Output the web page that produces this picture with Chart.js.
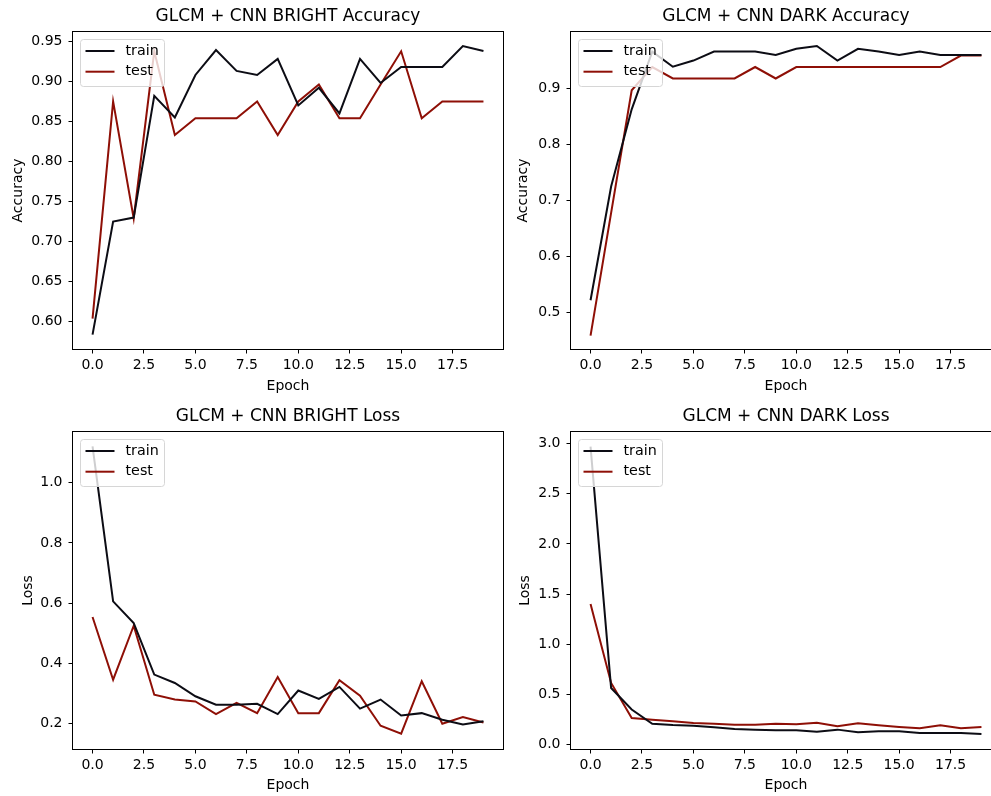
<!DOCTYPE html>
<html><head><meta charset="utf-8">
<script src="https://cdn.jsdelivr.net/npm/chart.js@4.4.1/dist/chart.umd.min.js"></script>
<style>
html,body{margin:0;padding:0;background:#fff;}
#wrap{position:relative;width:991px;height:796px;overflow:hidden;background:#fff;}
canvas{position:absolute;}
</style></head><body>
<div id="wrap">
<canvas id="c1" width="510" height="400" style="left:0;top:0"></canvas>
<canvas id="c2" width="510" height="400" style="left:498px;top:0"></canvas>
<canvas id="c3" width="510" height="396" style="left:0;top:400px"></canvas>
<canvas id="c4" width="510" height="396" style="left:498px;top:400px"></canvas>
</div>
<script>
// ---- data ----
const epochs = [0,1,2,3,4,5,6,7,8,9,10,11,12,13,14,15,16,17,18,19];
const xTicks = [0,2.5,5,7.5,10,12.5,15,17.5];

const brightAccTrain = [0.584,0.725,0.730,0.882,0.855,0.908,0.939,0.913,0.908,0.928,0.870,0.892,0.860,0.928,0.898,0.918,0.918,0.918,0.944,0.938];
const brightAccTest  = [0.604,0.875,0.729,0.9375,0.833,0.854,0.854,0.854,0.875,0.833,0.875,0.896,0.854,0.854,0.896,0.9375,0.854,0.875,0.875,0.875];
const darkAccTrain   = [0.521,0.724,0.862,0.965,0.938,0.949,0.965,0.965,0.965,0.959,0.970,0.975,0.949,0.970,0.965,0.959,0.965,0.959,0.959,0.959];
const darkAccTest    = [0.458,0.677,0.896,0.9375,0.917,0.917,0.917,0.917,0.9375,0.917,0.9375,0.9375,0.9375,0.9375,0.9375,0.9375,0.9375,0.9375,0.958,0.958];
const brightLossTrain= [1.12,0.606,0.534,0.363,0.335,0.291,0.263,0.263,0.266,0.232,0.310,0.282,0.322,0.250,0.280,0.227,0.235,0.213,0.197,0.208];
const brightLossTest = [0.554,0.346,0.525,0.296,0.280,0.274,0.232,0.269,0.235,0.355,0.235,0.235,0.344,0.293,0.193,0.167,0.341,0.200,0.222,0.204];
const darkLossTrain  = [2.97,0.565,0.35,0.209,0.196,0.189,0.173,0.156,0.150,0.143,0.143,0.130,0.150,0.123,0.133,0.133,0.116,0.116,0.116,0.106];
const darkLossTest   = [1.402,0.615,0.266,0.249,0.233,0.216,0.209,0.199,0.199,0.209,0.203,0.219,0.183,0.213,0.193,0.176,0.163,0.193,0.163,0.176];

const yTicksBrightAcc = [0.60,0.65,0.70,0.75,0.80,0.85,0.90,0.95];
const yTicksDarkAcc   = [0.5,0.6,0.7,0.8,0.9];
const yTicksBrightLoss= [0.2,0.4,0.6,0.8,1.0];
const yTicksDarkLoss  = [0.0,0.5,1.0,1.5,2.0,2.5,3.0];

const seriesLabels = ['train','test'];

// ---- style ----
const FONT = 'DejaVu Sans';
const TRAIN_COLOR = '#0c0c14';
const TEST_COLOR = '#8e0f06';

const framePlugin = {
  id: 'frameLegend',
  afterDatasetsDraw(chart) {
    const {ctx, chartArea: a} = chart;
    ctx.save();
    const bx = a.left + 7.5, by = a.top + 7.5, bw = 84, bh = 47, r = 3;
    ctx.beginPath();
    ctx.moveTo(bx + r, by);
    ctx.lineTo(bx + bw - r, by);
    ctx.arcTo(bx + bw, by, bx + bw, by + r, r);
    ctx.lineTo(bx + bw, by + bh - r);
    ctx.arcTo(bx + bw, by + bh, bx + bw - r, by + bh, r);
    ctx.lineTo(bx + r, by + bh);
    ctx.arcTo(bx, by + bh, bx, by + bh - r, r);
    ctx.lineTo(bx, by + r);
    ctx.arcTo(bx, by, bx + r, by, r);
    ctx.closePath();
    ctx.fillStyle = 'rgba(255,255,255,0.8)';
    ctx.fill();
    ctx.strokeStyle = '#d6d6d6';
    ctx.lineWidth = 1;
    ctx.stroke();
    chart.data.datasets.forEach((ds, i) => {
      const y = a.top + 19 + i * 20.7;
      ctx.beginPath();
      ctx.moveTo(a.left + 12.5, y);
      ctx.lineTo(a.left + 41.5, y);
      ctx.strokeStyle = ds.borderColor;
      ctx.lineWidth = 2;
      ctx.stroke();
      ctx.fillStyle = '#000';
      ctx.font = '14.3px "' + FONT + '"';
      ctx.textBaseline = 'middle';
      ctx.textAlign = 'left';
      ctx.fillText(ds.label, a.left + 52.5, y);
    });
    ctx.restore();
  },
  afterDraw(chart) {
    const {ctx, chartArea: a} = chart;
    ctx.save();
    ctx.strokeStyle = '#000';
    ctx.lineWidth = 1;
    ctx.strokeRect(Math.round(a.left) - 0.5, Math.round(a.top) - 0.5, Math.round(a.right - a.left) + 1, Math.round(a.bottom - a.top) + 1);
    ctx.restore();
  }
};

function build(id, cfg) {
  const H = document.getElementById(id).height;
  const mk = (arr) => epochs.map((e, i) => ({x: e, y: arr[i]}));
  return new Chart(document.getElementById(id), {
    type: 'line',
    data: {
      datasets: [
        {label: seriesLabels[0], data: mk(cfg.train), borderColor: TRAIN_COLOR, borderWidth: 2, pointRadius: 0, tension: 0, fill: false},
        {label: seriesLabels[1], data: mk(cfg.test), borderColor: TEST_COLOR, borderWidth: 2, pointRadius: 0, tension: 0, fill: false}
      ]
    },
    options: {
      responsive: false, animation: false, devicePixelRatio: 1,
      layout: {padding: {left: 0, right: 7, top: 0, bottom: 0}},
      plugins: {
        legend: {display: false},
        tooltip: {enabled: false},
        title: {display: true, text: cfg.title, fullSize: false, color: '#000',
          font: {family: FONT, size: 17, weight: 'normal'}, padding: {top: 6.5, bottom: 5.1}}
      },
      scales: {
        x: {
          type: 'linear', min: -0.95, max: 19.95,
          afterBuildTicks: s => { s.ticks = xTicks.map(v => ({value: v})); },
          afterFit: s => { s.height = H - 349; },
          ticks: {callback: v => Number(v).toFixed(1), padding: 3.6, color: '#000', maxRotation: 0, autoSkip: false,
            font: {family: FONT, size: 14}},
          grid: {drawOnChartArea: false, drawTicks: true, tickLength: 4.5, color: '#000', lineWidth: 1},
          border: {display: false},
          title: {display: true, text: 'Epoch', color: '#000', font: {family: FONT, size: 14},
            padding: {top: 0, bottom: H === 400 ? 5.6 : 2.6}}
        },
        y: {
          type: 'linear', min: cfg.yMin, max: cfg.yMax,
          afterBuildTicks: s => { s.ticks = cfg.yTicks.map(v => ({value: v})); },
          afterFit: s => { s.width = 73; },
          ticks: {callback: v => Number(v).toFixed(cfg.dec), padding: 6, color: '#000', autoSkip: false,
            font: {family: FONT, size: 14}},
          grid: {drawOnChartArea: false, drawTicks: true, tickLength: 4.5, color: '#000', lineWidth: 1},
          border: {display: false},
          title: {display: true, text: cfg.yTitle, color: '#000', font: {family: FONT, size: 14},
            padding: {top: cfg.yPad, bottom: 0}}
        }
      }
    },
    plugins: [framePlugin]
  });
}

build('c1', {title: 'GLCM + CNN BRIGHT Accuracy', yTitle: 'Accuracy', train: brightAccTrain, test: brightAccTest,
  yMin: 0.566, yMax: 0.9616, yTicks: yTicksBrightAcc, dec: 2, yPad: 9.7});
build('c2', {title: 'GLCM + CNN DARK Accuracy', yTitle: 'Accuracy', train: darkAccTrain, test: darkAccTest,
  yMin: 0.434, yMax: 1.0, yTicks: yTicksDarkAcc, dec: 1, yPad: 17.2});
build('c3', {title: 'GLCM + CNN BRIGHT Loss', yTitle: 'Loss', train: brightLossTrain, test: brightLossTest,
  yMin: 0.116, yMax: 1.168, yTicks: yTicksBrightLoss, dec: 1, yPad: 19.6});
build('c4', {title: 'GLCM + CNN DARK Loss', yTitle: 'Loss', train: darkLossTrain, test: darkLossTest,
  yMin: -0.043, yMax: 3.116, yTicks: yTicksDarkLoss, dec: 1, yPad: 18.9});
</script>
</body></html>
